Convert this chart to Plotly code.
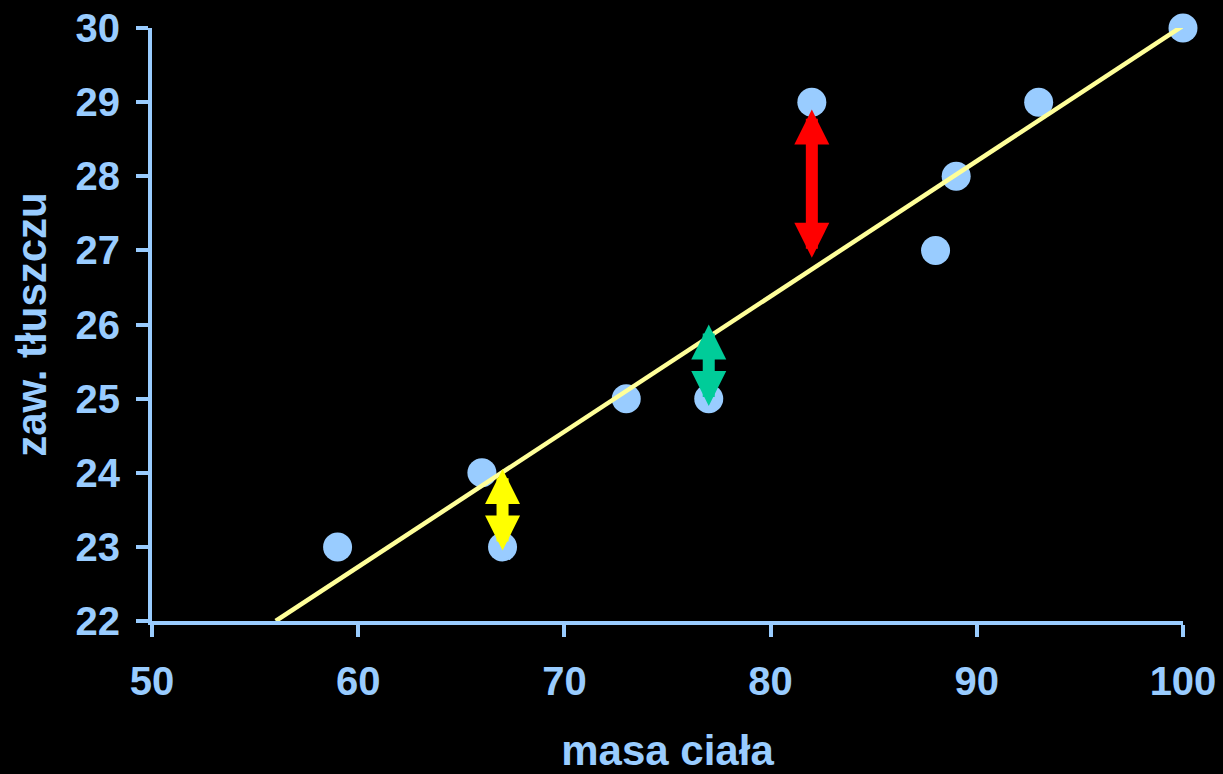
import plotly.graph_objects as go

# Data
mass = [59, 66, 67, 73, 77, 82, 88, 89, 93, 100]
fat = [23, 24, 23, 25, 25, 29, 27, 28, 29, 30]

fit_x = [56, 100]
fit_y = [22, 30.03]

arrow_x = [67, 77, 82]
arrow_top = [24.05, 26.0, 28.9]
arrow_bottom = [22.95, 24.9, 26.9]
arrow_colors = ["#FFFF00", "#00CC99", "#FF0000"]

x_ticks = [50, 60, 70, 80, 90, 100]
y_ticks = [22, 23, 24, 25, 26, 27, 28, 29, 30]

BLUE = "#99CCFF"
FONT = "Liberation Sans, Arial, sans-serif"

fig = go.Figure()
fig.add_trace(go.Scatter(
    x=mass, y=fat, mode="markers",
    marker=dict(size=29, color=BLUE, line=dict(width=0)),
    cliponaxis=False, showlegend=False,
))
fig.add_trace(go.Scatter(
    x=fit_x, y=fit_y, mode="lines",
    line=dict(color="#FFFF99", width=4.5),
    cliponaxis=False, showlegend=False,
))

for xv, yt, yb, col in zip(arrow_x, arrow_top, arrow_bottom, arrow_colors):
    fig.add_annotation(
        x=xv, y=yb, ax=xv, ay=yt, xref="x", yref="y", axref="x", ayref="y",
        text="", showarrow=True, arrowside="end+start",
        arrowhead=2, startarrowhead=2,
        arrowwidth=12, arrowsize=7 / 12, startarrowsize=7 / 12,
        arrowcolor=col, standoff=0, startstandoff=0,
        font=dict(size=1), borderpad=0, borderwidth=0,
    )

axis_common = dict(
    showgrid=False, zeroline=False, showline=True, linecolor=BLUE, linewidth=4,
    ticks="outside", ticklen=12, tickwidth=4, tickcolor=BLUE,
    tickfont=dict(family=FONT, size=40, color=BLUE, weight="bold"),
    automargin=False,
)

fig.update_xaxes(
    range=[50, 100], tickvals=x_ticks, ticklabelstandoff=10, **axis_common,
    title=dict(text="masa ciała", font=dict(family=FONT, size=42, color=BLUE, weight="bold"), standoff=50),
)
fig.update_yaxes(
    range=[22, 30], tickvals=y_ticks, ticklabelstandoff=8, **axis_common,
    title=dict(text="zaw. tłuszczu", font=dict(family=FONT, size=42, color=BLUE, weight="bold"), standoff=17),
)

fig.update_layout(
    width=1223, height=774,
    margin=dict(l=152, r=40, t=28, b=153),
    paper_bgcolor="black", plot_bgcolor="black",
    showlegend=False,
)

fig.write_html(
    "out.html",
    config={"displayModeBar": False},
    post_script="document.body.style.margin='0';document.body.style.padding='0';"
                "document.body.style.background='black';document.body.style.overflow='hidden';",
)
